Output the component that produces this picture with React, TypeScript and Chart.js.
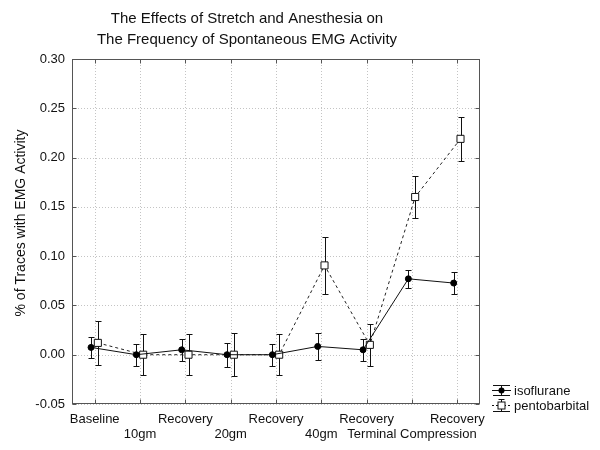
import React, { useEffect, useRef } from "react";
import { Chart, registerables } from "chart.js";

Chart.register(...registerables);

const categories = ["Baseline", "10gm", "Recovery", "20gm", "Recovery", "40gm", "Recovery", "Terminal Compression", "Recovery"];
const labelRow = [0, 1, 0, 1, 0, 1, 0, 1, 0];
const isoflurane = [0.0074, 0.0, 0.005, 0.0, 0.0, 0.0084, 0.005, 0.077, 0.0727];
const isofluraneErr = [0.011, 0.011, 0.011, 0.012, 0.011, 0.014, 0.011, 0.009, 0.011];
const pentobarbital = [0.012, 0.0, 0.0, 0.0, 0.0, 0.0906, 0.01, 0.16, 0.219];
const pentobarbitalErr = [0.022, 0.021, 0.021, 0.022, 0.021, 0.029, 0.021, 0.0215, 0.022];
const yTicks = [-0.05, 0, 0.05, 0.1, 0.15, 0.2, 0.25, 0.3];
const titleLines = ["The Effects of Stretch and Anesthesia on", "The Frequency of Spontaneous EMG Activity"];
const yTitle = "% of Traces with EMG Activity";
const seriesNames = ["isoflurane", "pentobarbital"];

const FONT = "'Liberation Sans', Arial, sans-serif";
const errs = [isofluraneErr, pentobarbitalErr];
const vals = [isoflurane, pentobarbital];

const decorPlugin = {
  id: "decor",
  beforeDatasetsDraw(chart: any) {
    const { ctx, chartArea: a, scales } = chart;
    const xs = scales.x, ys = scales.y;
    ctx.save();
    // grid
    ctx.strokeStyle = "#c4c4c4";
    ctx.lineWidth = 1;
    ctx.setLineDash([1, 2]);
    categories.forEach((_, i) => {
      const x = Math.round(xs.getPixelForValue(i)) + 0.5;
      ctx.beginPath(); ctx.moveTo(x, a.top); ctx.lineTo(x, a.bottom); ctx.stroke();
    });
    yTicks.forEach((v) => {
      const y = Math.round(ys.getPixelForValue(v)) + 0.5;
      ctx.beginPath(); ctx.moveTo(a.left, y); ctx.lineTo(a.right, y); ctx.stroke();
    });
    ctx.setLineDash([]);
    // frame
    ctx.strokeStyle = "#555";
    const L = Math.round(a.left) + 0.5, R = Math.round(a.right) - 0.5, T = Math.round(a.top) + 0.5, B = Math.round(a.bottom) - 0.5;
    ctx.strokeRect(L, T, R - L, B - T);
    // inner ticks
    const tl = 4;
    categories.forEach((_, i) => {
      const x = Math.round(xs.getPixelForValue(i)) + 0.5;
      ctx.beginPath(); ctx.moveTo(x, T); ctx.lineTo(x, T + tl); ctx.moveTo(x, B); ctx.lineTo(x, B - tl); ctx.stroke();
    });
    yTicks.forEach((v) => {
      const y = Math.round(ys.getPixelForValue(v)) + 0.5;
      ctx.beginPath(); ctx.moveTo(L, y); ctx.lineTo(L + tl, y); ctx.moveTo(R, y); ctx.lineTo(R - tl, y); ctx.stroke();
    });
    // error bars
    ctx.strokeStyle = "#111";
    chart.data.datasets.forEach((ds: any, di: number) => {
      const meta = chart.getDatasetMeta(di);
      meta.data.forEach((pt: any, j: number) => {
        const v = vals[di][j], e = errs[di][j];
        const x = Math.round(pt.x) + 0.5;
        const yt = Math.round(ys.getPixelForValue(v + e)) + 0.5;
        const yb = Math.round(ys.getPixelForValue(v - e)) + 0.5;
        ctx.beginPath();
        ctx.moveTo(x, yt); ctx.lineTo(x, yb);
        ctx.moveTo(x - 3, yt); ctx.lineTo(x + 3, yt);
        ctx.moveTo(x - 3, yb); ctx.lineTo(x + 3, yb);
        ctx.stroke();
      });
    });
    ctx.restore();
  },
  afterDraw(chart: any) {
    const { ctx } = chart;
    ctx.save();
    ctx.fillStyle = "#111";
    ctx.textAlign = "center";
    ctx.textBaseline = "middle";
    ctx.font = `15px ${FONT}`;
    ctx.fillText(titleLines[0], 247, 19);
    ctx.fillText(titleLines[1], 247, 40);
    // y title
    ctx.save();
    ctx.translate(21, 223);
    ctx.rotate(-Math.PI / 2);
    ctx.font = `14px ${FONT}`;
    ctx.fillText(yTitle, 0, 0);
    ctx.restore();
    // legend
    ctx.strokeStyle = "#111";
    ctx.lineWidth = 1;
    const x0 = 492, x1 = 511, xc = 501.5;
    // isoflurane
    let yc = 390.5;
    ctx.beginPath();
    ctx.moveTo(x0, yc); ctx.lineTo(x1, yc);
    ctx.moveTo(x0 + 1, yc - 5); ctx.lineTo(x1 - 1, yc - 5);
    ctx.moveTo(x0 + 1, yc + 5); ctx.lineTo(x1 - 1, yc + 5);
    ctx.moveTo(xc, yc - 5); ctx.lineTo(xc, yc + 5);
    ctx.stroke();
    ctx.beginPath(); ctx.arc(xc, yc, 3, 0, Math.PI * 2); ctx.fillStyle = "#000"; ctx.fill();
    // pentobarbital
    yc = 405.5;
    ctx.beginPath();
    ctx.setLineDash([2, 2]);
    ctx.moveTo(x0, yc); ctx.lineTo(x1, yc);
    ctx.stroke();
    ctx.setLineDash([]);
    ctx.beginPath();
    ctx.moveTo(x0 + 1, yc + 6); ctx.lineTo(x1 - 1, yc + 6);
    ctx.moveTo(xc, yc - 6); ctx.lineTo(xc, yc + 6);
    ctx.moveTo(xc - 3, yc - 6); ctx.lineTo(xc + 3, yc - 6);
    ctx.stroke();
    ctx.fillStyle = "#fff";
    ctx.fillRect(xc - 3.5, yc - 3.5, 7, 7);
    ctx.strokeRect(xc - 3.5, yc - 3.5, 7, 7);
    ctx.fillStyle = "#111";
    ctx.textAlign = "left";
    ctx.font = `13px ${FONT}`;
    ctx.fillText(seriesNames[0], 514, 391);
    ctx.fillText(seriesNames[1], 514, 406);
    ctx.restore();
  },
};

export default function App() {
  const ref = useRef<HTMLCanvasElement>(null);
  useEffect(() => {
    if (!ref.current) return;
    const chart = new Chart(ref.current, {
      type: "line",
      data: {
        datasets: [
          {
            label: seriesNames[0],
            data: isoflurane.map((v, i) => ({ x: i - 0.08, y: v })),
            borderColor: "#111",
            borderWidth: 1,
            backgroundColor: "#000",
            pointStyle: "circle",
            pointRadius: 3,
            pointBorderWidth: 1,
            pointBackgroundColor: "#000",
            pointBorderColor: "#000",
            tension: 0,
          },
          {
            label: seriesNames[1],
            data: pentobarbital.map((v, i) => ({ x: i + 0.07, y: v })),
            borderColor: "#222",
            borderWidth: 1,
            borderDash: [3, 3],
            pointStyle: "rect",
            pointRadius: 5,
            pointBorderWidth: 1,
            pointBackgroundColor: "#fff",
            pointBorderColor: "#111",
            tension: 0,
          },
        ],
      },
      options: {
        animation: false,
        responsive: false,
        layout: { padding: { top: 59, right: 120, bottom: 0, left: 0 } },
        plugins: { legend: { display: false }, title: { display: false }, tooltip: { enabled: false } },
        scales: {
          x: {
            type: "linear",
            min: -0.5,
            max: 8.5,
            grid: { display: false, drawTicks: false },
            border: { display: false },
            afterBuildTicks: (s: any) => { s.ticks = categories.map((_, i) => ({ value: i })); },
            afterFit: (s: any) => { s.height = 46; },
            ticks: {
              autoSkip: false,
              maxRotation: 0,
              padding: 8,
              color: "#111",
              font: { family: FONT, size: 13, lineHeight: 1.15 },
              callback: (v: any) => {
                const i = Math.round(Number(v));
                return labelRow[i] === 0 ? [categories[i], ""] : ["", categories[i]];
              },
            },
          },
          y: {
            min: -0.05,
            max: 0.3,
            grid: { display: false, drawTicks: false },
            border: { display: false },
            afterBuildTicks: (s: any) => { s.ticks = yTicks.map((v) => ({ value: v })); },
            afterFit: (s: any) => { s.width = 72; },
            ticks: {
              padding: 7,
              color: "#111",
              font: { family: FONT, size: 13 },
              callback: (v: any) => Number(v).toFixed(2),
            },
          },
        },
      },
      plugins: [decorPlugin],
    });
    return () => chart.destroy();
  }, []);
  return (
    <div style={{ position: "fixed", left: 0, top: 0, width: 600, height: 450, background: "#fff" }}>
      <canvas ref={ref} width={600} height={450} style={{ display: "block" }} />
    </div>
  );
}
